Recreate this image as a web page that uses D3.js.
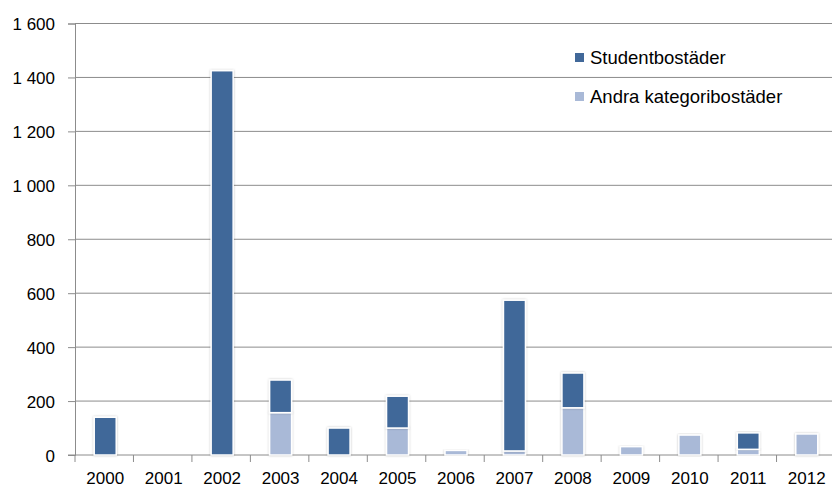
<!DOCTYPE html>
<html>
<head>
<meta charset="utf-8">
<script src="https://cdn.jsdelivr.net/npm/d3@7"></script>
<style>
  body { margin: 0; background: #fff; }
  svg text { font-family: "Liberation Sans", Arial, sans-serif; fill: #000; }
</style>
</head>
<body>
<svg width="832" height="489"></svg>
<script>
// data
var years = ["2000","2001","2002","2003","2004","2005","2006","2007","2008","2009","2010","2011","2012"];
var andra = [0, 0, 0, 157, 0, 100, 17, 15, 175, 31, 74, 21, 78];
var student = [140, 0, 1425, 121, 100, 118, 0, 559, 129, 0, 0, 61, 0];
var yTicks = [0, 200, 400, 600, 800, 1000, 1200, 1400, 1600];
var seriesNames = ["Studentbostäder", "Andra kategoribostäder"];
var colors = { student: "#416899", andra: "#a9b9d7" };

var svg = d3.select("svg");

var x = d3.scaleBand().domain(years).range([75, 835]);
var y = d3.scaleLinear().domain([0, 1600]).range([455, 23.5]);
var fmt = function(d) { return d3.format(",d")(d).replace(/,/g, " "); };

var defs = svg.append("defs");
var f = defs.append("filter").attr("id", "sh")
    .attr("x", "-30%").attr("y", "-10%").attr("width", "160%").attr("height", "120%");
f.append("feDropShadow").attr("dx", 0).attr("dy", 0).attr("stdDeviation", 1.2)
    .attr("flood-color", "#000").attr("flood-opacity", 0.25);

// gridlines
svg.append("g").selectAll("line").data(yTicks.slice(1)).enter().append("line")
    .attr("x1", 75).attr("x2", 832)
    .attr("y1", function(d) { return y(d); }).attr("y2", function(d) { return y(d); })
    .attr("stroke", "#8c8c8c").attr("stroke-width", 1);

// y axis
var yAxis = svg.append("g").attr("transform", "translate(75,0)")
    .call(d3.axisLeft(y).tickValues(yTicks).tickFormat(fmt).tickSize(7).tickPadding(13));
yAxis.select(".domain").attr("stroke", "#8c8c8c");
yAxis.selectAll(".tick line").attr("stroke", "#8c8c8c");
yAxis.selectAll("text").style("font-size", "17px").attr("dy", "0.36em");

// x axis line + ticks at the boundaries
svg.append("line").attr("x1", 68).attr("x2", 832).attr("y1", y(0)).attr("y2", y(0))
    .attr("stroke", "#8c8c8c");
var bounds = years.map(function(d) { return x(d); });
svg.append("g").selectAll("line").data(bounds).enter().append("line")
    .attr("x1", function(d) { return d; }).attr("x2", function(d) { return d; })
    .attr("y1", y(0)).attr("y2", y(0) + 7)
    .attr("stroke", "#8c8c8c");
svg.append("g").selectAll("text").data(years).enter().append("text")
    .attr("x", function(d) { return x(d) + x.bandwidth() / 2 + 1; })
    .attr("y", 484)
    .attr("text-anchor", "middle")
    .style("font-size", "17px")
    .text(function(d) { return d; });

// stacked bars
var rows = years.map(function(d, i) { return { year: d, andra: andra[i], student: student[i] }; });
var stack = d3.stack().keys(["andra", "student"])(rows);
var bw = 22;

svg.append("g").selectAll("g").data(stack).enter().append("g")
    .attr("fill", function(s) { return colors[s.key]; })
  .selectAll("rect").data(function(s) { return s.filter(function(d) { return d[1] > d[0]; }); })
  .enter().append("rect")
    .attr("x", function(d) { return x(d.data.year) + x.bandwidth() / 2 - bw / 2 + 1; })
    .attr("y", function(d) { return y(d[1]); })
    .attr("width", bw)
    .attr("height", function(d) { return y(d[0]) - y(d[1]); })
    .attr("stroke", "#fff").attr("stroke-width", 1.5)
    .attr("filter", "url(#sh)");

// legend
var leg = svg.append("g");
var legItems = [
  { name: seriesNames[0], color: colors.student, y: 64 },
  { name: seriesNames[1], color: colors.andra, y: 103 }
];
leg.selectAll("rect").data(legItems).enter().append("rect")
    .attr("x", 575).attr("y", function(d) { return d.y - 11; })
    .attr("width", 9).attr("height", 9)
    .attr("fill", function(d) { return d.color; });
leg.selectAll("text").data(legItems).enter().append("text")
    .attr("x", 590).attr("y", function(d) { return d.y; })
    .style("font-size", "18.5px")
    .text(function(d) { return d.name; });
</script>
</body>
</html>
